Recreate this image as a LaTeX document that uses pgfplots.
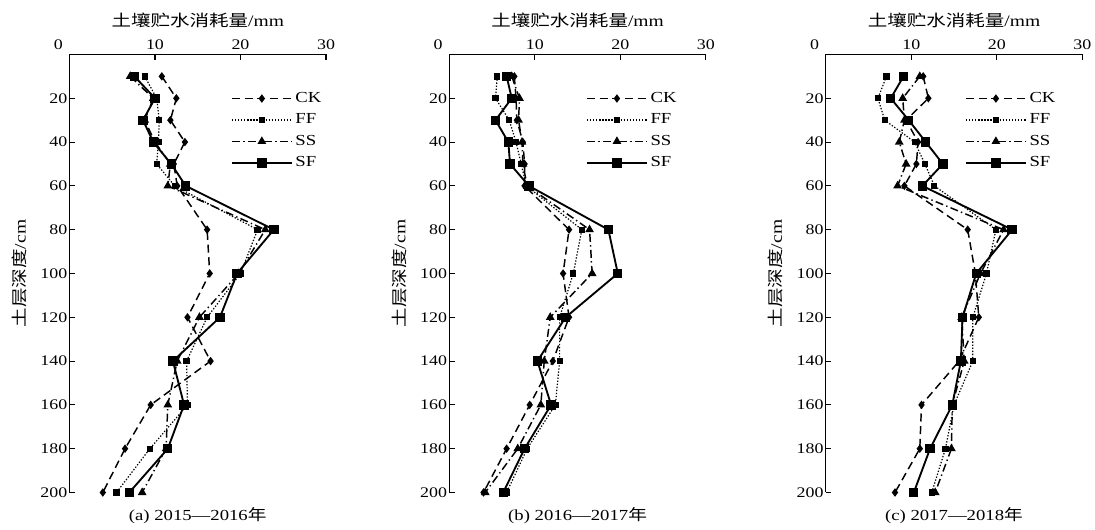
\documentclass[border=0pt]{standalone}
\usepackage{fontspec}
\setmainfont{Liberation Serif}[FakeStretch=1.22]
\newfontfamily\cjk{Noto Sans CJK SC}[FakeStretch=1.22]
\usepackage{pgfplots}
\usepackage{pgfplotstable}
\pgfplotsset{compat=1.18}

% depth (cm) vs soil water consumption (mm)
\pgfplotstableread{
depth CK FF SS SF
10 10.8 8.8 7.1 7.6
20 12.5 10.2 9.8 10.0
30 11.8 10.5 8.8 8.6
40 13.5 10.4 10.0 9.8
50 12.2 10.2 11.8 11.9
60 12.6 12.3 11.5 13.6
80 16.1 22.0 22.9 23.9
100 16.4 20.0 19.8 19.6
120 13.8 16.1 15.2 17.6
140 16.5 13.7 12.6 12.1
160 9.5 13.8 11.5 13.4
180 6.5 9.4 11.3 11.5
200 3.9 5.5 8.5 7.0
}\tabA
\pgfplotstableread{
depth CK FF SS SF
10 7.6 5.6 7.3 6.7
20 7.8 5.4 8.2 7.3
30 7.9 7.0 8.1 5.4
40 8.6 7.8 8.5 6.9
50 8.8 8.4 8.6 7.1
60 8.8 9.0 9.1 9.3
80 14.0 15.5 16.4 18.6
100 13.3 14.5 16.7 19.7
120 14.0 12.9 11.8 13.6
140 12.1 12.9 11.1 10.3
160 9.4 12.4 10.7 11.9
180 6.7 9.1 8.0 8.8
200 4.0 6.7 4.2 6.3
}\tabB
\pgfplotstableread{
depth CK FF SS SF
10 11.4 7.1 11.0 9.1
20 12.0 6.1 9.0 7.6
30 9.4 6.9 9.2 9.7
40 10.8 10.4 8.6 11.7
50 10.6 11.6 9.4 13.7
60 9.2 12.7 8.4 11.3
80 16.6 19.9 20.8 21.8
100 17.5 18.8 18.1 17.6
120 17.9 17.2 15.9 16.0
140 15.6 17.2 16.2 15.8
160 11.2 15.0 14.8 14.8
180 11.0 14.0 14.7 12.2
200 8.1 12.4 12.8 10.3
}\tabC

\pgfplotsset{
  soil/.style={
    scale only axis, width=192.4pt, height=328.5pt,
    anchor=south west,
    xmin=0, xmax=30, ymin=0, ymax=200, y dir=reverse,
    axis x line=top, axis y line=left,
    axis line style={-, line width=0.8pt},
    xtick={0,10,20,30},
    xticklabels={\makebox[0pt][r]{0\hspace{5pt}},10,20,30},
    ytick={20,40,...,200},
    tick align=inside, major tick length=4pt,
    tick style={line width=0.8pt, black},
    tick label style={font=\fontsize{11}{13}\selectfont, inner sep=1.5pt},
    xticklabel style={yshift=2pt},
    /pgf/number format/assume math mode=true,
    xlabel={{\cjk 土壤贮水消耗量}/mm},
    ylabel={{\cjk 土层深度}/cm},
    label style={font=\fontsize{12}{14}\selectfont},
    xlabel style={yshift=4pt},
    ylabel style={yshift=5pt},
    legend style={draw=none, fill=none, inner sep=0pt, row sep=3pt,
      font=\fontsize{11.5}{13}\selectfont, anchor=north west,
      cells={anchor=west}},
    legend image code/.code={
      \draw[mark repeat=2, mark phase=2]
        plot coordinates {(0pt,0pt) (22.5pt,0pt) (45pt,0pt)};},
  },
  ck/.style={black, line width=1.1pt, dash pattern=on 6pt off 3.5pt,
    mark=diamond*, mark size=2.3pt, mark options={solid}},
  ff/.style={black, line width=0.9pt, dash pattern=on 1pt off 1.3pt,
    mark=square*, mark size=1.9pt, mark options={solid}},
  ss/.style={black, line width=1.1pt, dash pattern=on 6pt off 2.5pt on 1pt off 2.5pt,
    mark=triangle*, mark size=2.7pt, mark options={solid}},
  sf/.style={black, line width=1.4pt, solid,
    mark=square*, mark size=2.8pt},
}

\begin{document}
\begin{tikzpicture}
\path[use as bounding box] (0,0) rectangle (821.25pt,396.75pt);

\begin{axis}[soil, at={(52.1pt,27.4pt)},
  legend style={at={(axis cs:18.85,16.0)}}]
\addplot[ck] table[x=CK, y=depth] {\tabA};
\addlegendentry{CK}
\addplot[ff] table[x=FF, y=depth] {\tabA};
\addlegendentry{FF}
\addplot[ss] table[x=SS, y=depth] {\tabA};
\addlegendentry{SS}
\addplot[sf] table[x=SF, y=depth] {\tabA};
\addlegendentry{SF}
\end{axis}

\begin{axis}[soil, at={(337.0pt,27.4pt)},
  legend style={at={(axis cs:15.95,16.0)}}]
\addplot[ck] table[x=CK, y=depth] {\tabB};
\addlegendentry{CK}
\addplot[ff] table[x=FF, y=depth] {\tabB};
\addlegendentry{FF}
\addplot[ss] table[x=SS, y=depth] {\tabB};
\addlegendentry{SS}
\addplot[sf] table[x=SF, y=depth] {\tabB};
\addlegendentry{SF}
\end{axis}

\begin{axis}[soil, at={(619.3pt,27.4pt)},
  legend style={at={(axis cs:16.25,16.0)}}]
\addplot[ck] table[x=CK, y=depth] {\tabC};
\addlegendentry{CK}
\addplot[ff] table[x=FF, y=depth] {\tabC};
\addlegendentry{FF}
\addplot[ss] table[x=SS, y=depth] {\tabC};
\addlegendentry{SS}
\addplot[sf] table[x=SF, y=depth] {\tabC};
\addlegendentry{SF}
\end{axis}

\begin{scope}[every node/.style={font=\fontsize{11.5}{13}\selectfont}]
\node at (148.3pt,9.75pt) {(a) 2015—2016{\cjk 年}};
\node at (433.2pt,9.75pt) {(b) 2016—2017{\cjk 年}};
\node at (715.5pt,9.75pt) {(c) 2017—2018{\cjk 年}};
\end{scope}
\end{tikzpicture}
\end{document}
